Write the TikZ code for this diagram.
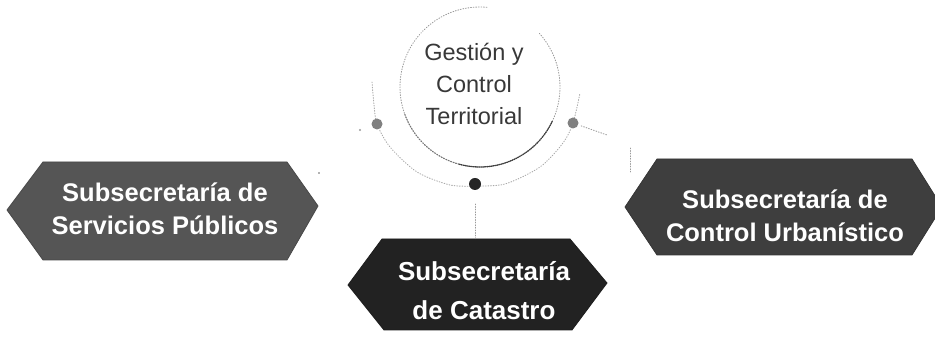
\documentclass[tikz,border=0pt]{standalone}
\usepackage{fontspec}
\setmainfont{Liberation Sans}
\definecolor{boxA}{HTML}{555555}
\definecolor{boxB}{HTML}{3E3E3E}
\definecolor{boxC}{HTML}{222222}
\definecolor{arcgray}{HTML}{9A9A9A}
\tikzset{
  dotline/.style={draw=arcgray, line width=0.9pt, dash pattern=on 0.8pt off 1.8pt, line cap=round},
  hexbox/.style={fill=#1, draw=#1!85!black, line width=0.8pt},
  boxtext/.style={text=white, font=\bfseries\fontsize{25.5}{33}\selectfont, align=center, inner sep=0pt},
  circtext/.style={text=black!78, font=\fontsize{23.5}{32}\selectfont, align=center, inner sep=0pt},
  hub/.style={circle, inner sep=0pt, minimum size=11pt}
}
\begin{document}
\begin{tikzpicture}[x=1pt,y=1pt]
\useasboundingbox (0,0) rectangle (935,339);
% hexagon boxes
\path[hexbox=boxA] (7,129) -- (43,177) -- (287,177) -- (318,133) -- (287,79) -- (43,79) -- cycle;
\path[hexbox=boxB] (625,132) -- (657,180) -- (912,180) -- (942,132) -- (912,84) -- (657,84) -- cycle;
\path[hexbox=boxC] (348,54) -- (382,100) -- (570,100) -- (607,56) -- (572,9) -- (384,9) -- cycle;
\node[boxtext] (serv) at (165,130) {Subsecretaría de\\Servicios Públicos};
\node[boxtext] (urb) at (785,123) {Subsecretaría de\\Control Urbanístico};
\node[boxtext, font=\bfseries\fontsize{26}{39}\selectfont] (cat) at (484,48) {Subsecretaría\\de Catastro};
% central circle
\coordinate (cc) at (480,252);
\draw[dotline] (cc) ++(85:80) arc[start angle=85, end angle=402, radius=80];
\draw[dotline, draw=black!55, line width=1.1pt] (cc) ++(200:80) arc[start angle=200, end angle=255, radius=80];
\draw[dotline, draw=black!75, line width=1.3pt, dash pattern=on 1pt off 1pt] (cc) ++(255:80) arc[start angle=255, end angle=335, radius=80];
\node[circtext] (gest) at (474,255) {Gestión y\\Control\\Territorial};
% outer arcs
\draw[dotline, draw=arcgray!85] plot[smooth] coordinates {(372,257) (374,234) (377,215) (390,192) (417,167) (450,154) (475,153)};
\draw[dotline, draw=arcgray!85] plot[smooth] coordinates {(475,153) (505,155) (540,172) (563,196) (573,216) (580,246)};
% hubs
\node[hub, fill=black!50] (dl) at (377,215) {};
\node[hub, fill=black!50] (dr) at (573,216) {};
\node[hub, fill=black!85, minimum size=12pt] (db) at (475,155) {};
% connectors
\coordinate (cattop) at (475,100);
\draw[dotline] (db) ++(0,-20) -- (cattop);
\coordinate (rt) at (607,204);
\draw[dotline, shorten <=3pt] (dr) -- (rt);
\coordinate (ua) at (630,191);
\coordinate (ub) at (630,167);
\draw[dotline] (ua) -- (ub);
\coordinate (lt) at (360,209);
\coordinate (ls) at (319,166);
\fill[arcgray] (lt) circle (1.2pt);
\fill[black!60] (ls) circle (0.9pt);
\end{tikzpicture}
\end{document}
